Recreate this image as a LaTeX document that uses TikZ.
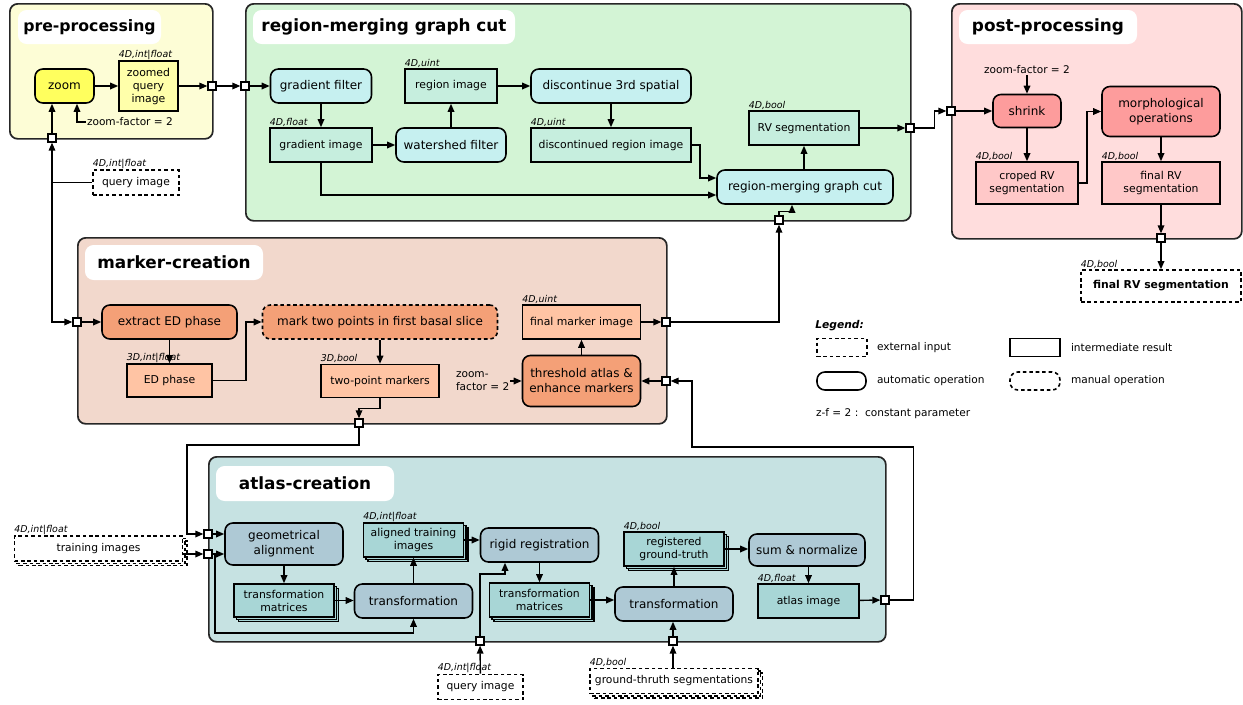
\documentclass[tikz,border=0pt]{standalone}
\usepackage{fontspec}
\setmainfont{DejaVu Sans}
\usetikzlibrary{arrows.meta,shadows,calc}

\newcommand{\pxu}{0.7pt}

% stage colours
\definecolor{preBg}{HTML}{FDFDD6}
\definecolor{preOp}{HTML}{FFFF5E}
\definecolor{preDat}{HTML}{FFFFAA}
\definecolor{rmBg}{HTML}{D3F4D5}
\definecolor{rmOp}{HTML}{C6F0F0}
\definecolor{rmDat}{HTML}{C6EEDE}
\definecolor{postBg}{HTML}{FFDDDD}
\definecolor{postOp}{HTML}{FD9C9C}
\definecolor{postDat}{HTML}{FFC8C8}
\definecolor{mkBg}{HTML}{F2D8CC}
\definecolor{mkOp}{HTML}{F4A077}
\definecolor{mkDat}{HTML}{FFC4A4}
\definecolor{atBg}{HTML}{C6E2E2}
\definecolor{atOp}{HTML}{AEC9D5}
\definecolor{atDat}{HTML}{A8D6D6}

\tikzset{
  sz/.style 2 args={minimum width=#1*\pxu, minimum height=#2*\pxu},
  grp/.style={draw=black!85, line width=1.2pt, rounded corners=5.5pt, inner sep=0pt, anchor=north west},
  ttl/.style={fill=white, rounded corners=6pt, inner sep=0pt, font=\fontsize{11.8}{14}\selectfont\bfseries},
  op/.style={draw, line width=1.1pt, rounded corners=5.5pt, align=center, inner sep=1pt, font=\fontsize{8.4}{10.5}\selectfont},
  dat/.style={draw, line width=1.1pt, align=center, inner sep=1pt, font=\fontsize{7.6}{9.1}\selectfont},
  ext/.style={draw, dash pattern=on 2.5pt off 2pt, line width=1.1pt, fill=white, align=center, inner sep=1pt, font=\fontsize{7.5}{9}\selectfont},
  manual/.style={op, dash pattern=on 2.5pt off 2pt},
  stack/.style={double copy shadow={shadow xshift=1.6pt, shadow yshift=-1.6pt}},
  port/.style={draw, fill=white, line width=0.9pt, minimum size=5.6pt, inner sep=0pt},
  dtype/.style={anchor=south west, inner sep=0.3pt, font=\fontsize{6.6}{7}\selectfont\itshape},
  note/.style={inner sep=0.5pt, align=left, font=\fontsize{7.4}{8.6}\selectfont},
  flow/.style={-{Triangle[length=5.6pt,width=4.6pt]}, line width=1pt},
  wire/.style={line width=1pt},
}

\begin{document}
\begin{tikzpicture}[x=0.7pt, y=-0.7pt]
\useasboundingbox (0,0) rectangle (1243,704);

% stages
\node[grp, fill=preBg, sz={203}{135}] (pre) at (9,3) {};
\node[grp, fill=rmBg, sz={665}{217}] (rm) at (245,3) {};
\node[grp, fill=postBg, sz={290}{235}] (post) at (951,3) {};
\node[grp, fill=mkBg, sz={589}{186}] (mk) at (77,237) {};
\node[grp, fill=atBg, sz={677}{185}] (at) at (208,456) {};

\node[ttl, sz={143}{34}, font=\fontsize{11}{13}\selectfont\bfseries] (pre-t) at (89.5,27) {pre-processing};
\node[ttl, sz={262}{34}] (rm-t) at (384,27) {region-merging graph cut};
\node[ttl, sz={178}{34}] (post-t) at (1048,27) {post-processing};
\node[ttl, sz={178}{35}] (mk-t) at (174,262.5) {marker-creation};
\node[ttl, sz={178}{35}] (at-t) at (305,483.5) {atlas-creation};

% pre-processing
\node[op, fill=preOp, sz={59}{34}] (zoomop) at (64.5,86) {zoom};
\node[dat, fill=preDat, sz={59}{50}] (zqimg) at (148.5,86) {zoomed\\query\\image};
\node[dtype] (zqimg-t) at (zqimg.north west) {4D,int|float};
\node[note, anchor=west] (zf1) at (86,122) {zoom-factor = 2};
\node[ext, sz={86}{25}] (qimg1) at (136,182.5) {query image};
\node[dtype] (qimg1-t) at (qimg1.north west) {4D,int|float};
\coordinate (qj) at (52,182.5);

% region-merging graph cut
\node[op, fill=rmOp, sz={101}{34}] (gradf) at (321,86) {gradient filter};
\node[dat, fill=rmDat, sz={102}{34}] (gradimg) at (321,145) {gradient image};
\node[dtype] (gradimg-t) at (gradimg.north west) {4D,float};
\node[op, fill=rmOp, sz={110}{34}] (wshed) at (451,145) {watershed filter};
\node[dat, fill=rmDat, sz={92}{34}] (regimg) at (451,86) {region image};
\node[dtype] (regimg-t) at (regimg.north west) {4D,uint};
\node[op, fill=rmOp, sz={160}{34}] (discop) at (611,86) {discontinue 3rd spatial};
\node[dat, fill=rmDat, sz={160}{34}] (discimg) at (611,145) {discontinued region image};
\node[dtype] (discimg-t) at (discimg.north west) {4D,uint};
\node[dat, fill=rmDat, sz={110}{34}] (rvseg) at (804,128) {RV segmentation};
\node[dtype] (rvseg-t) at (rvseg.north west) {4D,bool};
\node[op, fill=rmOp, sz={176}{34}] (rmop) at (805,187) {region-merging graph cut};

% post-processing
\node[note, anchor=center] (zf2) at (1027,70) {zoom-factor = 2};
\node[op, fill=postOp, sz={68}{33}] (shrink) at (1027,111) {shrink};
\node[dat, fill=postDat, sz={102}{42}] (croped) at (1027,183) {croped RV\\segmentation};
\node[dtype] (croped-t) at (croped.north west) {4D,bool};
\node[op, fill=postOp, sz={118}{50}] (morph) at (1161,111.5) {morphological\\operations};
\node[dat, fill=postDat, sz={118}{42}] (finalrv) at (1161,183) {final RV\\segmentation};
\node[dtype] (finalrv-t) at (finalrv.north west) {4D,bool};
\node[ext, sz={160}{32}, font=\fontsize{7.6}{9}\selectfont\bfseries] (finalout) at (1161,286) {final RV segmentation};
\node[dtype] (finalout-t) at (finalout.north west) {4D,bool};

% marker-creation
\node[op, fill=mkOp, sz={135}{34}] (extract) at (169.5,322) {extract ED phase};
\node[dat, fill=mkDat, sz={85}{33}] (edph) at (169.5,380.5) {ED phase};
\node[dtype] (edph-t) at (edph.north west) {3D,int|float};
\node[manual, fill=mkOp, sz={235}{34}] (mark) at (380,322) {mark two points in first basal slice};
\node[dat, fill=mkDat, sz={118}{33}] (twopt) at (380,381) {two-point markers};
\node[dtype] (twopt-t) at (twopt.north west) {3D,bool};
\node[dat, fill=mkDat, sz={118}{34}] (finmark) at (581.5,322) {final marker image};
\node[dtype] (finmark-t) at (finmark.north west) {4D,uint};
\node[op, fill=mkOp, sz={118}{51}] (thresh) at (581.5,381) {threshold atlas \&\\enhance markers};
\node[note, anchor=west] (zf3) at (455,381) {zoom-\\factor = 2};

% atlas-creation
\node[ext, stack, sz={168}{25}] (trainimg) at (98.5,548.5) {training images};
\node[dtype] (trainimg-t) at (trainimg.north west) {4D,int|float};
\node[op, fill=atOp, sz={118}{42}] (geoal) at (284,544) {geometrical\\alignment};
\node[dat, fill=atDat, stack, sz={100}{33}] (tm1) at (284,600.5) {transformation\\matrices};
\node[op, fill=atOp, sz={118}{34}] (tr1) at (413.5,601) {transformation};
\node[dat, fill=atDat, stack, sz={100}{34}] (algn) at (413.5,540) {aligned training\\images};
\node[dtype] (algn-t) at (algn.north west) {4D,int|float};
\node[op, fill=atOp, sz={118}{34}] (rigid) at (539.5,545) {rigid registration};
\node[dat, fill=atDat, stack, sz={100}{34}] (tm2) at (539.5,600) {transformation\\matrices};
\node[op, fill=atOp, sz={118}{34}] (tr2) at (674,604) {transformation};
\node[dat, fill=atDat, stack, sz={100}{34}] (reggt) at (674,549) {registered\\ground-truth};
\node[dtype] (reggt-t) at (reggt.north west) {4D,bool};
\node[op, fill=atOp, sz={116}{32}] (sumn) at (807,550) {sum \& normalize};
\node[dat, fill=atDat, sz={101}{34}] (atlasimg) at (808.5,601) {atlas image};
\node[dtype] (atlasimg-t) at (atlasimg.north west) {4D,float};
\node[ext, sz={85}{25}] (qimg2) at (480.5,687) {query image};
\node[dtype] (qimg2-t) at (qimg2.north west) {4D,int|float};
\node[ext, stack, sz={168}{25}] (gtseg) at (674,681) {ground-thruth segmentations};
\node[dtype] (gtseg-t) at (gtseg.north west) {4D,bool};

% ports
\node[port] (pOut) at (212,86) {};
\node[port] (pBot) at (52,138) {};
\node[port] (rmIn) at (245,86) {};
\node[port] (rmOut) at (910,128) {};
\node[port] (rmBot) at (779,220) {};
\node[port] (postIn) at (951,111) {};
\node[port] (postBot) at (1161,238) {};
\node[port] (mIn) at (77,322) {};
\node[port] (mOut) at (666,322) {};
\node[port] (mIn2) at (666,381) {};
\node[port] (mBot) at (359,423) {};
\node[port] (aIn1) at (208,534) {};
\node[port] (aIn2) at (208,554) {};
\node[port] (aOut) at (885,600) {};
\node[port] (aBot1) at (480,641) {};
\node[port] (aBot2) at (673,641) {};

\coordinate (bk1) at (692,447);
\coordinate (bk2) at (187,445);
\coordinate (bk3) at (215,633);
\coordinate (bk4) at (505,574);

% pre-processing flow
\draw[flow] (zoomop) -- (zqimg);
\draw[flow] (zqimg) -- (pOut);
\draw[flow] (pOut) -- (rmIn);
\draw[wire] (qimg1.west) -- (qj);
\draw[flow] (qj) -- (pBot);
\draw[flow] (qj) |- (mIn);
\draw[flow] (pBot) -- (pBot |- zoomop.south);
\draw[flow] (zf1.west) -| ($(zoomop.south)+(12.5,0)$);

% region-merging flow
\draw[flow] (rmIn) -- (gradf);
\draw[flow] (gradf) -- (gradimg);
\draw[flow] (gradimg) -- (wshed);
\draw[flow] (wshed) -- (regimg);
\draw[flow] (regimg) -- (discop);
\draw[flow] (discop) -- (discimg);
\draw[flow] (discimg.east) -- ++(8,0) |- ($(rmop.west)+(0,-9)$);
\draw[flow] (gradimg.south) |- ($(rmop.west)+(0,8)$);
\draw[flow] (rmop.north -| rvseg) -- (rvseg);
\draw[flow] (rvseg) -- (rmOut);
\draw[flow] (rmOut.east) -- ++(20,0) |- (postIn);
\draw[flow] (rmBot.north) -- ++(0,-4) -| ($(rmop.south)+(-13,0)$);

% post-processing flow
\draw[flow] (postIn) -- (shrink);
\draw[flow] (zf2) -- (shrink);
\draw[flow] (shrink) -- (croped);
\draw[flow] (croped.east) -- ++(8,0) |- (morph.west);
\draw[flow] (morph) -- (finalrv);
\draw[flow] (finalrv) -- (postBot);
\draw[flow] (postBot) -- (finalout);

% marker-creation flow
\draw[flow] (mIn) -- (extract);
\draw[flow] (extract) -- (edph);
\draw[flow] (edph.east) -- ++(33,0) |- (mark.west);
\draw[flow] (mark) -- (twopt);
\draw[flow] (twopt.south) -- ++(0,10) -| (mBot);
\draw[flow] (thresh) -- (finmark);
\draw[flow] (finmark) -- (mOut);
\draw[flow] (mOut.east) -| (rmBot);
\draw[flow] (zf3) -- (thresh);
\draw[flow] (mIn2) -- (thresh);

% atlas-creation flow
\draw[flow] (mBot.south) |- (bk2) |- (aIn1);
\draw[flow] (trainimg.east |- aIn2) -- (aIn2);
\draw[flow] (aIn1) -- (aIn1 -| geoal.west);
\draw[flow] (aIn2) -- (aIn2 -| geoal.west);
\draw[flow] (aIn2.east) -| (bk3) -| (tr1.south);
\draw[flow] (geoal) -- (tm1);
\draw[flow] (tm1.east) -- (tm1.east -| tr1.west);
\draw[flow] (tr1) -- (algn);
\draw[flow] (algn.east) -- (algn.east -| rigid.west);
\draw[flow] (rigid) -- (tm2);
\draw[flow] (tm2.east) -- (tm2.east -| tr2.west);
\draw[flow] (tr2) -- (reggt);
\draw[flow] (reggt.east) -- (reggt.east -| sumn.west);
\draw[flow] (sumn.south -| atlasimg) -- (atlasimg);
\draw[flow] (atlasimg) -- (aOut);
\draw[flow] (aOut.east) -- ++(24,0) |- (bk1) |- (mIn2);
\draw[flow] (qimg2) -- (aBot1);
\draw[flow] (aBot1.north) |- (bk4) -- (bk4 |- rigid.south);
\draw[flow] (gtseg.north -| aBot2) -- (aBot2);
\draw[flow] (aBot2) -- (tr2.south -| aBot2);

% legend
\node[anchor=west, inner sep=0pt, font=\fontsize{7.5}{9}\selectfont\bfseries\itshape] (leg) at (815,326) {Legend:};
\node[ext, sz={50}{18}] (legext) at (842,347.5) {};
\node[note, anchor=west] (legext-t) at (876,347.5) {external input};
\node[dat, sz={50}{18}] (legdat) at (1035,347.5) {};
\node[note, anchor=west] (legdat-t) at (1070,347.5) {intermediate result};
\node[op, sz={49}{18}] (legop) at (841.5,381) {};
\node[note, anchor=west] (legop-t) at (876,381) {automatic operation};
\node[manual, sz={50}{18}] (legman) at (1035,381) {};
\node[note, anchor=west] (legman-t) at (1070,381) {manual operation};
\node[note, anchor=west] (legpar) at (815,414) {z-f = 2 :\ \ constant parameter};
\end{tikzpicture}
\end{document}
